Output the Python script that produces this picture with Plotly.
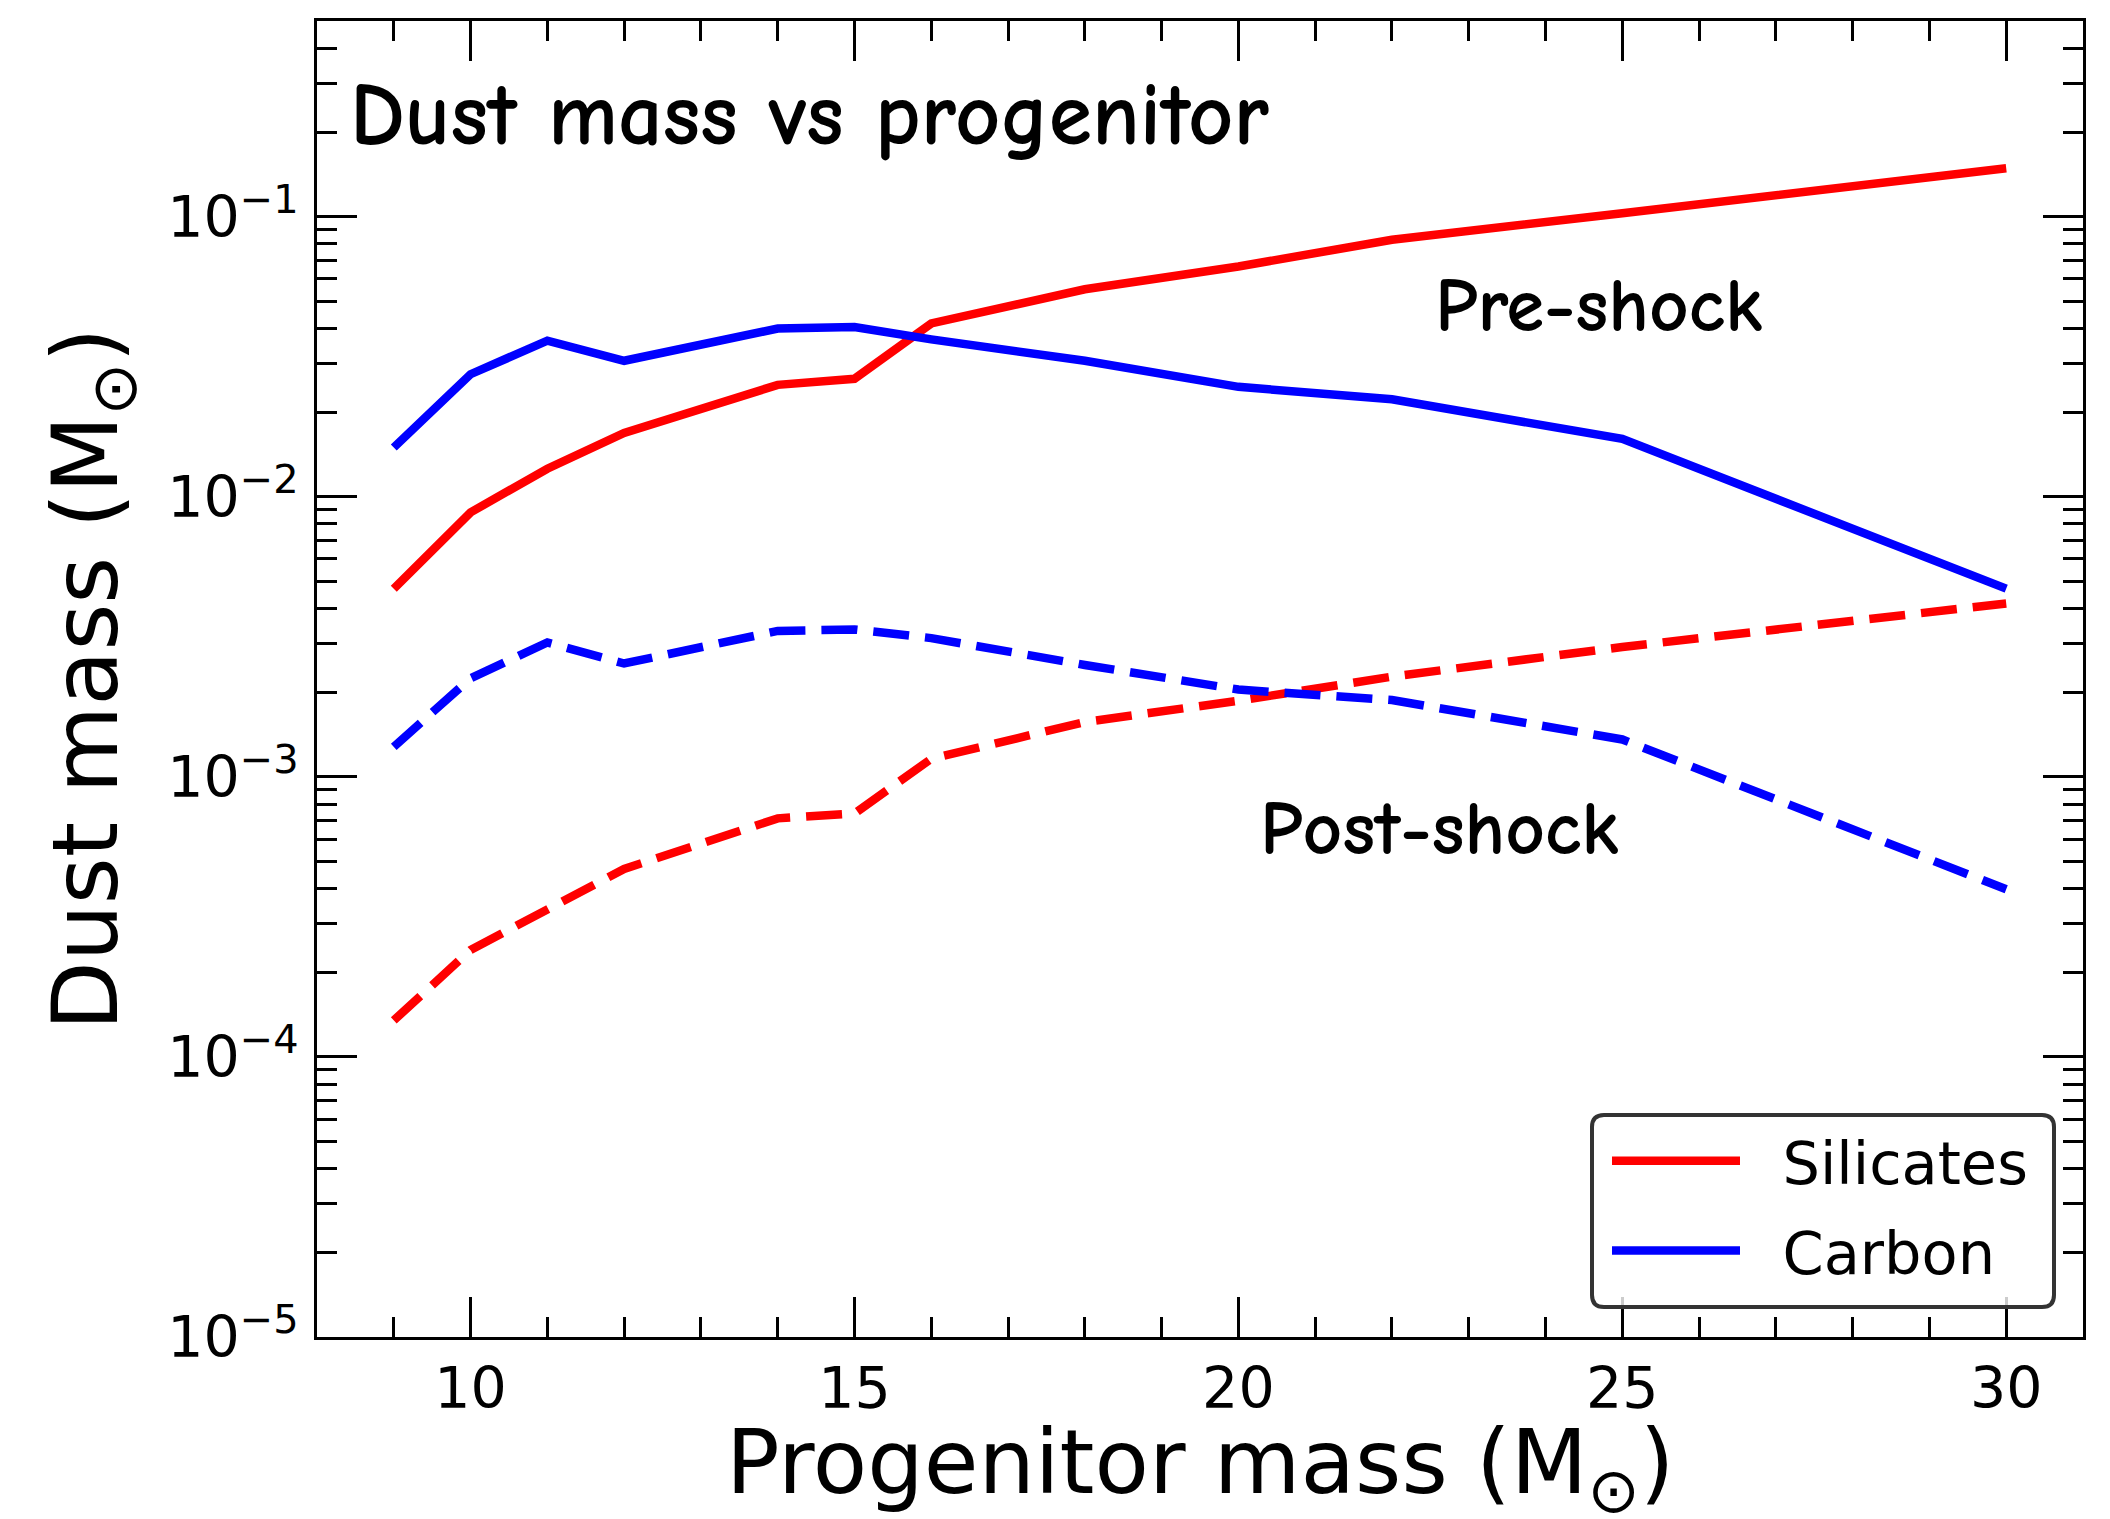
import plotly.graph_objects as go

# Progenitor masses (solar masses)
progenitor_mass = [9, 10, 11, 12, 14, 15, 16, 18, 20, 22, 25, 30]

# Dust masses (solar masses) before and after the reverse shock
silicates_pre = [0.0047, 0.0088, 0.0126, 0.0169, 0.0251, 0.0264, 0.0416, 0.0551, 0.0664, 0.0828, 0.103, 0.149]
carbon_pre = [0.0150, 0.0274, 0.0361, 0.0306, 0.0399, 0.0404, 0.0365, 0.0306, 0.0247, 0.0223, 0.0161, 0.0047]
silicates_post = [0.000135, 0.000241, 0.000336, 0.000469, 0.000711, 0.00074, 0.00116, 0.00157, 0.00187, 0.00228, 0.00291, 0.00416]
carbon_post = [0.00128, 0.00225, 0.00302, 0.00254, 0.00332, 0.00336, 0.00313, 0.00251, 0.00205, 0.00188, 0.00136, 0.000397]

x_ticks = [10, 15, 20, 25, 30]
y_ticks = [1e-5, 1e-4, 1e-3, 1e-2, 1e-1]
y_ticktext = ["10<sup>\u22125</sup>", "10<sup>\u22124</sup>", "10<sup>\u22123</sup>",
              "10<sup>\u22122</sup>", "10<sup>\u22121</sup>"]

RED = "#ff0000"
BLUE = "#0000ff"
LW = 8.5
DASH = "36px,16px"

fig = go.Figure()
fig.add_trace(go.Scatter(x=progenitor_mass, y=silicates_pre, mode="lines",
                         name="\u00a0\u00a0Silicates", legendgroup="sil",
                         line=dict(color=RED, width=LW)))
fig.add_trace(go.Scatter(x=progenitor_mass, y=carbon_pre, mode="lines",
                         name="\u00a0\u00a0Carbon", legendgroup="car",
                         line=dict(color=BLUE, width=LW)))
fig.add_trace(go.Scatter(x=progenitor_mass, y=silicates_post, mode="lines", showlegend=False,
                         legendgroup="sil", line=dict(color=RED, width=LW, dash=DASH)))
fig.add_trace(go.Scatter(x=progenitor_mass, y=carbon_post, mode="lines", showlegend=False,
                         legendgroup="car", line=dict(color=BLUE, width=LW, dash=DASH)))

tick_font = dict(family="DejaVu Sans", size=57, color="black")
title_font = dict(family="DejaVu Sans", size=90, color="black")
hand_font = "Comic Sans MS, Comic Neue, Lato, sans-serif"

x_minor = [v for v in range(8, 32) if v not in x_ticks]
y_minor = [m * 10.0 ** e for e in range(-5, 0) for m in range(2, 10)] + [0.2, 0.3, 0.4]

fig.update_xaxes(
    range=[8, 31], showline=True, linewidth=3, linecolor="black", mirror="ticks",
    ticks="inside", ticklen=40, tickwidth=3, tickcolor="black",
    tickmode="array", tickvals=x_ticks, tickfont=tick_font,
    minor=dict(ticks="inside", ticklen=20, tickwidth=2.5, tickcolor="black",
               tickmode="array", tickvals=x_minor, showgrid=False),
    showgrid=False, zeroline=False,
)
fig.update_yaxes(
    type="log", range=[-5, -0.30103], showline=True, linewidth=3, linecolor="black", mirror="ticks",
    ticks="inside", ticklen=40, tickwidth=3, tickcolor="black",
    tickmode="array", tickvals=y_ticks, ticktext=y_ticktext, tickfont=tick_font,
    minor=dict(ticks="inside", ticklen=20, tickwidth=2.5, tickcolor="black",
               tickmode="array", tickvals=y_minor, showgrid=False),
    showgrid=False, zeroline=False, ticklabelstandoff=4,
    title=dict(text="Dust mass (M<sub>\u2299</sub>)", font=title_font, standoff=20),
)

# x-axis title, set below the tick labels
fig.add_annotation(text="Progenitor mass (M<sub>\u2299</sub>)", xref="paper", yref="paper",
                   x=0.5, y=-0.1, xanchor="center", yanchor="middle", showarrow=False,
                   borderpad=0, font=dict(family="DejaVu Sans", size=89, color="black"))

fig.add_annotation(text="Dust mass vs progenitor", xref="paper", yref="paper",
                   x=0.0175, y=0.928, xanchor="left", yanchor="middle", showarrow=False,
                   font=dict(family=hand_font, size=88, color="black", weight=600))
fig.add_annotation(text="Pre-shock", x=22.53, y=-1.318, xanchor="left", yanchor="middle",
                   showarrow=False, font=dict(family=hand_font, size=77, color="black", weight=600))
fig.add_annotation(text="Post-shock", x=20.26, y=-3.185, xanchor="left", yanchor="middle",
                   showarrow=False, font=dict(family=hand_font, size=77, color="black", weight=600))

# rounded frame behind the legend
L, R, T, B = 317, 2083, 21, 1337
W, H = R - L, B - T
bx0, bx1, by0, by1 = 1592, 2054, 1115, 1307
rad = 12
def px(xp):
    return (xp - L) / W
def py(yp):
    return (B - yp) / H
path = (f"M {px(bx0 + rad)},{py(by0)} L {px(bx1 - rad)},{py(by0)} "
        f"Q {px(bx1)},{py(by0)} {px(bx1)},{py(by0 + rad)} "
        f"L {px(bx1)},{py(by1 - rad)} Q {px(bx1)},{py(by1)} {px(bx1 - rad)},{py(by1)} "
        f"L {px(bx0 + rad)},{py(by1)} Q {px(bx0)},{py(by1)} {px(bx0)},{py(by1 - rad)} "
        f"L {px(bx0)},{py(by0 + rad)} Q {px(bx0)},{py(by0)} {px(bx0 + rad)},{py(by0)} Z")
fig.add_shape(type="path", path=path, xref="paper", yref="paper",
              line=dict(color="#333333", width=4), fillcolor="rgba(255,255,255,0.8)", layer="above")

fig.update_layout(
    width=2110, height=1519,
    margin=dict(l=L, r=2110 - R, t=T, b=1519 - B, autoexpand=False),
    paper_bgcolor="white", plot_bgcolor="white",
    showlegend=True,
    legend=dict(x=px(1607), y=py(1116), xanchor="left", yanchor="top",
                bgcolor="rgba(0,0,0,0)", borderwidth=0, itemwidth=128,
                traceorder="grouped", tracegroupgap=10,
                font=dict(family="DejaVu Sans", size=59, color="black")),
)

fig.write_html("out.html")
